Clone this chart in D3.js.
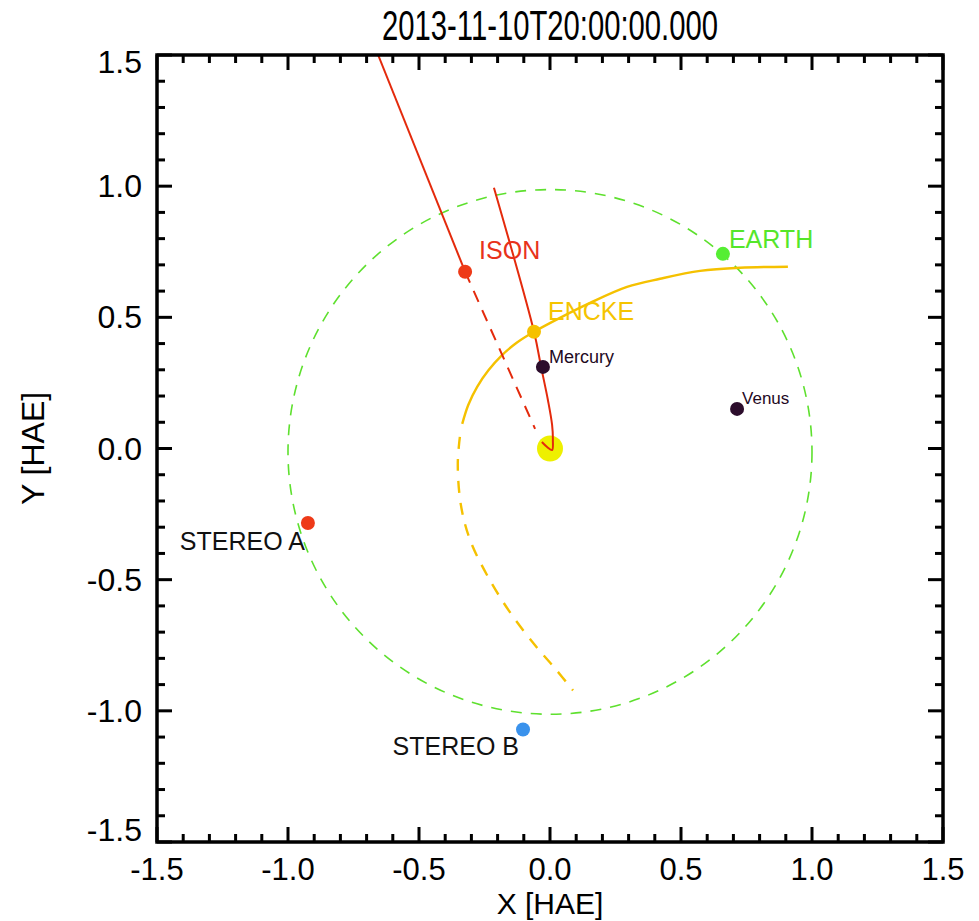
<!DOCTYPE html>
<html>
<head>
<meta charset="utf-8">
<script src="https://cdn.jsdelivr.net/npm/d3@7"></script>
<style>
  html, body { margin: 0; padding: 0; background: #fff; }
  svg { display: block; }
  text { font-family: "Liberation Sans", Arial, Helvetica, sans-serif; }
</style>
</head>
<body>
<svg id="chart" width="979" height="921"></svg>
<script>
// ---------------- data ----------------
const titleText = "2013-11-10T20:00:00.000";
const xTickValues = [-1.5, -1.0, -0.5, 0.0, 0.5, 1.0, 1.5];
const yTickValues = [-1.5, -1.0, -0.5, 0.0, 0.5, 1.0, 1.5];
const xTickLabels = ["-1.5", "-1.0", "-0.5", "0.0", "0.5", "1.0", "1.5"];
const yTickLabels = ["-1.5", "-1.0", "-0.5", "0.0", "0.5", "1.0", "1.5"];

const bodyNames  = ["Mercury", "Venus", "EARTH", "ISON", "ENCKE", "STEREO A", "STEREO B"];
const bodyX      = [-0.027, 0.714, 0.660, -0.324, -0.061, -0.924, -0.103];
const bodyY      = [ 0.311, 0.151, 0.742,  0.674,  0.445, -0.284, -1.071];

const sunX = [0.0], sunY = [0.0];

// Earth orbit (nearly circular): centre and radius in HAE units
const earthOrbitCenter = [0.0, -0.013];
const earthOrbitRadius = 1.0;

// ISON trajectory pieces
const isonInX   = [-0.656, -0.324];
const isonInY   = [ 1.500,  0.674];
const isonDashX = [-0.324, -0.057];
const isonDashY = [ 0.674,  0.075];
const isonOutX  = [-0.214, -0.061, -0.034, -0.008, 0.008, 0.011, 0.008, -0.011, -0.031];
const isonOutY  = [ 0.994,  0.445,  0.311,  0.185, 0.090, 0.032, -0.006, 0.006, 0.025];

// Encke orbit pieces
const enckeSolidX = [0.908, 0.725, 0.573, 0.420, 0.294, 0.153, 0.038, -0.061, -0.126, -0.184, -0.235, -0.278, -0.312, -0.335];
const enckeSolidY = [0.693, 0.689, 0.677, 0.647, 0.616, 0.555, 0.498,  0.445,  0.404,  0.355,  0.298,  0.235,  0.166,  0.094];
const enckeDashX  = [-0.344, -0.352, -0.340, -0.305, -0.240, -0.153, -0.057, 0.019, 0.088];
const enckeDashY  = [ 0.044, -0.058, -0.216, -0.349, -0.483, -0.624, -0.750, -0.838, -0.922];

// ---------------- styles ----------------
const C = {
  red: "#e42a0c", redDot: "#ee3a18", gold: "#f5c100", green: "#5ee02e",
  greenDot: "#55ee33", sun: "#eef000", dark: "#2c0d2c", blue: "#3a92ec"
};
const bodyColors = [C.dark, C.dark, C.greenDot, C.redDot, C.gold, C.redDot, C.blue];
const labelColors = ["#1f0a1f", "#1f0a1f", "#55e62a", "#e8321a", "#f5c400", "#111", "#111"];
const labelSize = [18, 17, 25, 25, 25, 25, 25];
const labelDx = [6, 5, 6, 14, 14, -3, -4];
const labelDy = [-4, -5, -6, -13, -12, 27, 26];
const labelAnchor = ["start", "start", "start", "start", "start", "end", "end"];

// ---------------- layout ----------------
const L = 157, R = 943, T = 55, B = 842;
const svg = d3.select("#chart");
const x = d3.scaleLinear().domain([-1.5, 1.5]).range([L, R]);
const y = d3.scaleLinear().domain([-1.5, 1.5]).range([B, T]);

svg.append("defs").append("clipPath").attr("id", "plotclip")
  .append("rect").attr("x", L).attr("y", T).attr("width", R - L).attr("height", B - T);

const plot = svg.append("g").attr("clip-path", "url(#plotclip)");

// Earth orbit
plot.append("ellipse")
  .attr("cx", x(earthOrbitCenter[0])).attr("cy", y(earthOrbitCenter[1]))
  .attr("rx", x(earthOrbitRadius) - x(0)).attr("ry", y(0) - y(earthOrbitRadius))
  .attr("fill", "none").attr("stroke", C.green).attr("stroke-width", 1.6)
  .attr("stroke-dasharray", "11,9");

const line = d3.line().x(d => x(d[0])).y(d => y(d[1])).curve(d3.curveCatmullRom.alpha(0.5));
const zip = (a, b) => a.map((v, i) => [v, b[i]]);

// Encke
plot.append("path").attr("d", line(zip(enckeSolidX, enckeSolidY)))
  .attr("fill", "none").attr("stroke", C.gold).attr("stroke-width", 2.4);
plot.append("path").attr("d", line(zip(enckeDashX, enckeDashY)))
  .attr("fill", "none").attr("stroke", C.gold).attr("stroke-width", 2.4)
  .attr("stroke-dasharray", "12,10");

// Sun
plot.selectAll("circle.sun").data(zip(sunX, sunY)).join("circle").attr("class", "sun")
  .attr("cx", d => x(d[0])).attr("cy", d => y(d[1])).attr("r", 13).attr("fill", C.sun);

// ISON
plot.append("path").attr("d", line(zip(isonInX, isonInY)))
  .attr("fill", "none").attr("stroke", C.red).attr("stroke-width", 2);
plot.append("path").attr("d", line(zip(isonDashX, isonDashY)))
  .attr("fill", "none").attr("stroke", C.red).attr("stroke-width", 2)
  .attr("stroke-dasharray", "12,9");
plot.append("path").attr("d", line(zip(isonOutX, isonOutY)))
  .attr("fill", "none").attr("stroke", C.red).attr("stroke-width", 2);

// Bodies
const bodies = bodyNames.map((n, i) => ({ n, x: bodyX[i], y: bodyY[i], i }));
plot.selectAll("circle.body").data(bodies).join("circle").attr("class", "body")
  .attr("cx", d => x(d.x)).attr("cy", d => y(d.y)).attr("r", 7)
  .attr("fill", d => bodyColors[d.i]);

svg.selectAll("text.blabel").data(bodies).join("text").attr("class", "blabel")
  .attr("x", d => x(d.x) + labelDx[d.i]).attr("y", d => y(d.y) + labelDy[d.i])
  .attr("text-anchor", d => labelAnchor[d.i])
  .attr("font-size", d => labelSize[d.i])
  .attr("fill", d => labelColors[d.i])
  .text(d => d.n);

// ---------------- axes ----------------
const minorX = d3.range(-1.5, 1.5001, 0.1).map(v => +v.toFixed(2));
const minorY = minorX;
const MAJ = 15, MIN = 8;
const isMajor = v => Math.abs(v * 2 - Math.round(v * 2)) < 1e-6;

const axisG = svg.append("g");
function drawTicks(g, vals, horizontal) {
  vals.forEach(v => {
    const len = isMajor(v) ? MAJ : MIN;
    if (horizontal) {
      g.append("line").attr("x1", x(v)).attr("x2", x(v)).attr("y1", B).attr("y2", B - len);
      g.append("line").attr("x1", x(v)).attr("x2", x(v)).attr("y1", T).attr("y2", T + len);
    } else {
      g.append("line").attr("y1", y(v)).attr("y2", y(v)).attr("x1", L).attr("x2", L + len);
      g.append("line").attr("y1", y(v)).attr("y2", y(v)).attr("x1", R).attr("x2", R - len);
    }
  });
}
const tickG = axisG.append("g").attr("stroke", "#000").attr("stroke-width", 3);
drawTicks(tickG, minorX, true);
drawTicks(tickG, minorY, false);

axisG.append("rect").attr("x", L).attr("y", T).attr("width", R - L).attr("height", B - T)
  .attr("fill", "none").attr("stroke", "#000").attr("stroke-width", 3.5);

// tick labels
axisG.selectAll("text.xt").data(xTickValues).join("text").attr("class", "xt")
  .attr("x", d => x(d)).attr("y", 880).attr("text-anchor", "middle")
  .attr("font-size", 31).attr("fill", "#000")
  .text((d, i) => xTickLabels[i]);

axisG.selectAll("text.yt").data(yTickValues).join("text").attr("class", "yt")
  .attr("x", 142).attr("text-anchor", "end")
  .attr("y", d => y(d) + 11 + (d === 1.5 ? 7 : d === -1.5 ? -12 : 0))
  .attr("font-size", 32).attr("fill", "#000")
  .text((d, i) => yTickLabels[i]);

// axis titles
svg.append("text").attr("x", x(0)).attr("y", 914).attr("text-anchor", "middle")
  .attr("font-size", 30).attr("fill", "#000").text("X [HAE]");
svg.append("text").attr("transform", `translate(44,${y(0)}) rotate(-90)`)
  .attr("text-anchor", "middle").attr("font-size", 32).attr("fill", "#000").text("Y [HAE]");

// title
svg.append("text").attr("x", x(0)).attr("y", 40).attr("text-anchor", "middle")
  .attr("font-size", 42).attr("fill", "#000")
  .style("font-family", "'Liberation Sans Narrow', 'Liberation Sans', Arial, sans-serif")
  .attr("textLength", 336).attr("lengthAdjust", "spacingAndGlyphs")
  .text(titleText);
</script>
</body>
</html>
